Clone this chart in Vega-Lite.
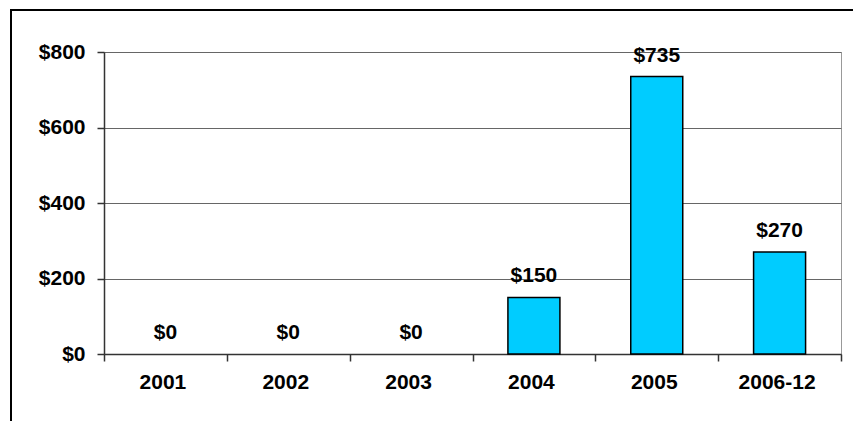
{
  "$schema": "https://vega.github.io/schema/vega-lite/v6.json",
  "width": 737,
  "height": 302,
  "autosize": {"type": "none"},
  "padding": {"left": 104, "top": 52, "right": 12, "bottom": 67},
  "background": "white",
  "config": {
    "view": {"stroke": "#999999", "strokeWidth": 1},
    "font": "Liberation Sans"
  },
  "data": {
    "values": [
      {"year": "2001", "amount": 0},
      {"year": "2002", "amount": 0},
      {"year": "2003", "amount": 0},
      {"year": "2004", "amount": 150},
      {"year": "2005", "amount": 735},
      {"year": "2006-12", "amount": 270}
    ]
  },
  "layer": [
    {
      "mark": {"type": "rect", "fill": null, "stroke": "black", "strokeWidth": 2},
      "encoding": {
        "x": {"value": -93},
        "x2": {"value": 780},
        "y": {"value": -42},
        "y2": {"value": 400}
      }
    },
    {
      "mark": {"type": "bar", "fill": "#00CCFF", "strokeWidth": 1.5, "width": 52},
      "encoding": {
        "x": {
          "field": "year",
          "type": "ordinal",
          "sort": null,
          "scale": {"paddingInner": 0, "paddingOuter": 0},
          "axis": {
            "title": null,
            "labelAngle": 0,
            "labelFont": "Liberation Sans",
            "labelFontSize": 21,
            "labelFontWeight": "bold",
            "labelColor": "black",
            "labelPadding": 10,
            "labelOffset": -3,
            "tickBand": "extent",
            "tickSize": 7,
            "tickColor": "#333333",
            "tickWidth": 1.5,
            "domainColor": "#333333",
            "domainWidth": 1.5,
            "grid": false
          }
        },
        "y": {
          "field": "amount",
          "type": "quantitative",
          "scale": {"domain": [0, 800], "nice": false},
          "axis": {
            "title": null,
            "values": [0, 200, 400, 600, 800],
            "format": "$,d",
            "labelFont": "Liberation Sans",
            "labelFontSize": 21,
            "labelFontWeight": "bold",
            "labelColor": "black",
            "labelPadding": 12,
            "tickSize": 7,
            "tickColor": "#333333",
            "tickWidth": 1.5,
            "domainColor": "#333333",
            "domainWidth": 1.5,
            "grid": true,
            "gridColor": "#666666",
            "gridWidth": 1
          }
        },
        "stroke": {
          "condition": {"test": "datum.amount > 0", "value": "black"},
          "value": null
        }
      }
    },
    {
      "mark": {"type": "text", "baseline": "alphabetic", "dy": -15, "fontSize": 21, "fontWeight": "bold", "font": "Liberation Sans", "color": "black"},
      "encoding": {
        "x": {"field": "year", "type": "ordinal", "sort": null},
        "y": {"field": "amount", "type": "quantitative"},
        "text": {"field": "amount", "type": "quantitative", "format": "$,d"}
      }
    }
  ]
}
